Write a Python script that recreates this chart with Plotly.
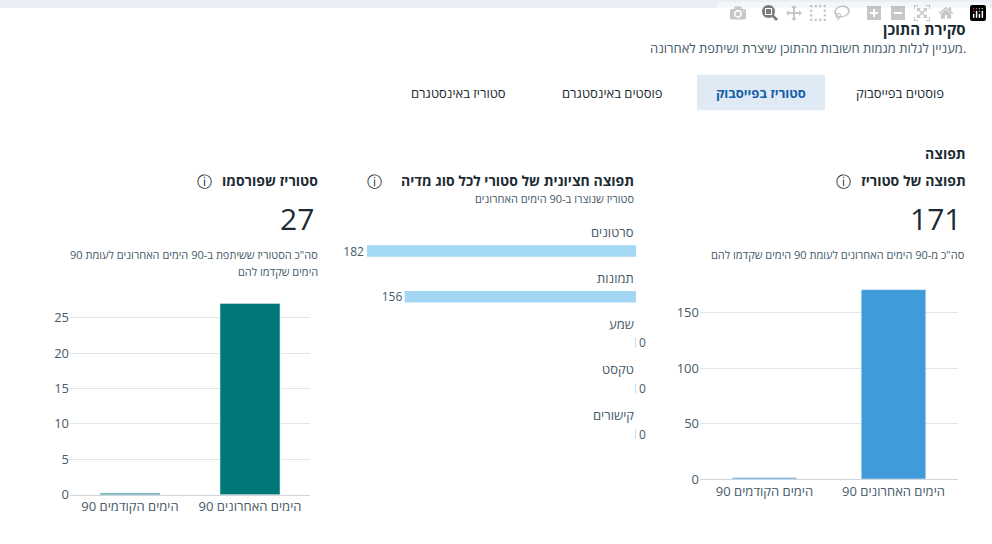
import plotly.graph_objects as go

# data
period_labels = ["\u200e90 הימים הקודמים", "\u200e90 הימים האחרונים"]
reach_values = [1, 171]
published_values = [0.2, 27]
media_types = ["סרטונים", "תמונות", "שמע", "טקסט", "קישורים"]
media_reach = [182, 156, 0, 0, 0]

W, H = 992, 544
FONT = "Open Sans, DejaVu Sans, sans-serif"
INK = "#1c2b33"
GREY = "#465a69"


def px(x):
    return x / W


def py(y):
    return 1 - y / H


fig = go.Figure()

# right chart: reach of stories
fig.add_trace(go.Bar(x=period_labels, y=reach_values, marker_color="#3f9bd9",
                     width=0.5, xaxis="x", yaxis="y", hoverinfo="x+y"))
# left chart: stories published
fig.add_trace(go.Bar(x=period_labels, y=published_values, marker_color="#00787a",
                     width=0.5, xaxis="x3", yaxis="y3", hoverinfo="x+y"))
# middle: median reach per media type
fig.add_trace(go.Bar(x=media_reach, y=media_types, orientation="h",
                     marker=dict(color="#a3d8f5", line=dict(color="#a3d8f5", width=1.5)),
                     width=0.22, text=[str(v) for v in media_reach],
                     textposition="outside", cliponaxis=False, constraintext="none",
                     textfont=dict(size=12, color=GREY),
                     xaxis="x2", yaxis="y2", hoverinfo="x+y"))

tick = dict(size=13, color=GREY, family=FONT)
fig.update_layout(
    width=W, height=H, margin=dict(l=0, r=0, t=0, b=0),
    paper_bgcolor="white", plot_bgcolor="white",
    showlegend=False, bargap=0.5, uniformtext=dict(minsize=12),
    font=dict(family=FONT, color=INK),
    xaxis=dict(domain=[px(700), px(958)], tickfont=tick, showline=True,
               linecolor="#cfd6dc", ticks=""),
    yaxis=dict(domain=[py(487), py(290)], range=[0, 175], tickvals=[0, 50, 100, 150],
               tickfont=tick, gridcolor="#e3e6e8", zeroline=False),
    xaxis3=dict(domain=[px(70), px(310)], anchor="y3", tickfont=tick, showline=True,
                linecolor="#cfd6dc", ticks=""),
    yaxis3=dict(domain=[py(503), py(305)], anchor="x3", range=[0, 27.5],
                tickvals=[0, 5, 10, 15, 20, 25], tickfont=tick,
                gridcolor="#e3e6e8", zeroline=False),
    xaxis2=dict(domain=[px(367), px(636)], anchor="y2", range=[182, 0],
                visible=False),
    yaxis2=dict(domain=[py(472), py(232)], anchor="x2", autorange="reversed",
                visible=False),
)

# page frame and selected tab
fig.add_shape(type="rect", xref="paper", yref="paper", x0=0, x1=1, y0=py(8), y1=1,
              fillcolor="#e9eef5", line_width=0, layer="below")
fig.add_shape(type="rect", xref="paper", yref="paper", x0=px(697), x1=px(825),
              y0=py(112), y1=py(76), fillcolor="#dfeaf5", line_width=0, layer="below")


def note(text, x, y, size=13, color=INK, anchor="right", bold=False):
    if bold:
        text = "<b>" + text + "</b>"
    fig.add_annotation(text=text, x=px(x), y=py(y), xref="paper", yref="paper",
                       xanchor=anchor, yanchor="middle", showarrow=False,
                       font=dict(size=size, color=color, family=FONT))


note("סקירת התוכן", 968, 29, 15, bold=True)
note("מעניין לגלות מגמות חשובות מהתוכן שיצרת ושיתפת לאחרונה.", 968, 49, 13, GREY)
note("פוסטים בפייסבוק", 900, 95, 13, anchor="center")
note("סטוריז בפייסבוק", 761, 95, 13, "#1560a8", anchor="center", bold=True)
note("פוסטים באינסטגרם", 612, 95, 13, anchor="center")
note("סטוריז באינסטגרם", 458, 95, 13, anchor="center")
note("תפוצה", 968, 156, 14, bold=True)

note("תפוצה של סטוריז", 968, 184, 14, bold=True)
note("ⓘ", 843, 184, 15, anchor="center")
note("171", 963, 222, 30)
note("סה\"כ מ-90 הימים האחרונים לעומת 90 הימים שקדמו להם", 966, 259, 11, GREY)

note("תפוצה חציונית של סטורי לכל סוג מדיה", 636, 184, 14, bold=True)
note("ⓘ", 374, 184, 15, anchor="center")
note("סטוריז שנוצרו ב-90 הימים האחרונים", 636, 202, 11, GREY)

note("סטוריז שפורסמו", 320, 184, 14, bold=True)
note("ⓘ", 204, 184, 15, anchor="center")
note("27", 316, 222, 30)
note("סה\"כ הסטוריז ששיתפת ב-90 הימים האחרונים לעומת 90", 320, 259, 11, GREY)
note("הימים שקדמו להם", 320, 276, 11, GREY)

# media-type labels above each bar
for m in media_types:
    fig.add_annotation(text=m, x=0, y=m, xref="x2", yref="y2", xanchor="right",
                       yanchor="middle", yshift=19, showarrow=False,
                       font=dict(size=13, color=GREY, family=FONT))

fig.write_html("out.html", post_script="document.body.style.margin='0';")
